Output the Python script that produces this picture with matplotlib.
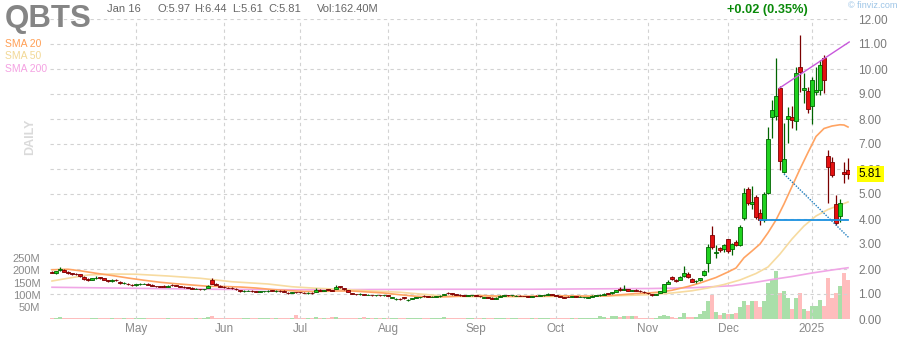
import numpy as np
import pandas as pd
import matplotlib
matplotlib.use("Agg")
import matplotlib.pyplot as plt
import matplotlib.transforms as mtransforms

plt.rcParams['font.family'] = ['Liberation Sans', 'DejaVu Sans']

# ---- data (QBTS daily, Apr 2 2024 - Jan 16 2025) ----
ticker = "QBTS"
holidays = ["2024-05-27", "2024-06-19", "2024-07-04", "2024-09-02",
            "2024-11-28", "2024-12-25", "2025-01-01", "2025-01-09"]
dates = pd.bdate_range("2024-04-02", "2025-01-16")
dates = dates[~dates.isin(pd.to_datetime(holidays))]

opens = [
    1.90, 1.84, 1.98, 1.98, 1.90, 1.84, 1.81, 1.79, 1.70, 1.60,
    1.56, 1.66, 1.67, 1.64, 1.56, 1.52, 1.56, 1.50, 1.44, 1.42,
    1.38, 1.35, 1.40, 1.42, 1.42, 1.37, 1.32, 1.31, 1.33, 1.29,
    1.38, 1.36, 1.33, 1.28, 1.27, 1.26, 1.22, 1.21, 1.19, 1.24,
    1.55, 1.42, 1.34, 1.29, 1.26, 1.25, 1.22, 1.16, 1.12, 1.13,
    1.14, 1.13, 1.08, 1.11, 1.13, 1.15, 1.11, 1.13, 1.14, 1.06,
    1.04, 1.09, 1.08, 1.06, 1.03, 1.05, 1.10, 1.17, 1.12, 1.19,
    1.15, 1.20, 1.32, 1.24, 1.15, 1.05, 1.01, 0.99, 1.00, 0.97,
    0.97, 0.96, 0.96, 0.95, 0.96, 0.85, 0.80, 0.81, 0.87, 0.75,
    0.80, 0.85, 0.87, 0.93, 0.91, 0.90, 0.90, 0.91, 0.96, 1.06,
    1.03, 0.99, 0.97, 0.95, 0.94, 0.96, 0.96, 0.92, 0.86, 0.89,
    0.86, 0.82, 0.90, 0.92, 0.97, 0.95, 0.94, 0.94, 0.93, 0.92,
    0.89, 0.94, 0.93, 0.95, 0.96, 0.99, 0.95, 0.92, 0.88, 0.90,
    0.88, 0.92, 0.90, 0.87, 0.86, 0.90, 0.94, 0.95, 0.98, 1.04,
    1.03, 1.10, 1.20, 1.17, 1.19, 1.12, 1.18, 1.13, 1.10, 1.05,
    1.00, 0.96, 1.05, 1.09, 1.42, 1.68, 1.55, 1.58, 1.72, 1.80,
    1.62, 1.52, 1.55, 1.75, 2.23, 3.36, 2.66, 2.85, 2.80, 3.19,
    2.80, 3.10, 2.96, 4.03, 5.19, 4.62, 4.89, 4.25, 3.98, 5.05,
    8.07, 8.13, 9.23, 5.89, 8.00, 8.09, 7.93, 10.09, 9.16, 9.12,
    8.52, 9.09, 9.16, 10.43, 6.52, 6.29, 4.60, 4.12, 5.89, 5.97,
]
highs = [
    1.93, 1.94, 2.08, 2.00, 1.92, 1.86, 1.84, 1.80, 1.72, 1.63,
    1.66, 1.73, 1.70, 1.66, 1.58, 1.60, 1.62, 1.52, 1.47, 1.44,
    1.40, 1.42, 1.45, 1.46, 1.44, 1.39, 1.34, 1.33, 1.35, 1.35,
    1.40, 1.38, 1.34, 1.31, 1.29, 1.28, 1.24, 1.22, 1.22, 1.35,
    1.63, 1.44, 1.35, 1.31, 1.28, 1.27, 1.24, 1.18, 1.15, 1.15,
    1.16, 1.14, 1.12, 1.14, 1.15, 1.16, 1.15, 1.15, 1.15, 1.07,
    1.09, 1.10, 1.09, 1.08, 1.07, 1.07, 1.23, 1.19, 1.16, 1.22,
    1.18, 1.35, 1.34, 1.26, 1.16, 1.06, 1.02, 1.04, 1.01, 0.99,
    0.98, 0.98, 0.97, 0.98, 0.97, 0.90, 0.84, 0.83, 0.88, 0.79,
    0.85, 0.88, 0.90, 0.95, 0.93, 0.92, 0.93, 0.95, 1.02, 1.08,
    1.04, 1.00, 0.99, 0.97, 0.98, 0.98, 0.97, 0.94, 0.90, 0.90,
    0.87, 0.87, 0.95, 0.96, 0.98, 0.97, 0.96, 0.95, 0.94, 0.93,
    0.92, 0.95, 0.96, 0.97, 1.03, 1.00, 0.96, 0.93, 0.89, 0.91,
    0.92, 0.93, 0.92, 0.90, 0.89, 0.95, 0.96, 0.99, 1.03, 1.05,
    1.10, 1.18, 1.30, 1.36, 1.21, 1.16, 1.19, 1.15, 1.11, 1.06,
    1.01, 1.01, 1.14, 1.42, 1.55, 1.73, 1.60, 1.72, 2.12, 1.88,
    1.64, 1.57, 1.66, 1.97, 3.00, 3.72, 2.95, 2.90, 3.00, 3.22,
    3.05, 3.15, 3.75, 5.23, 5.29, 5.31, 4.95, 4.40, 5.10, 7.69,
    8.76, 10.43, 9.30, 7.83, 8.49, 8.52, 10.09, 11.36, 9.83, 9.29,
    9.67, 10.09, 10.36, 10.56, 6.76, 6.49, 4.96, 4.80, 6.29, 6.44,
]
lows = [
    1.84, 1.82, 1.93, 1.88, 1.82, 1.78, 1.76, 1.70, 1.58, 1.53,
    1.55, 1.62, 1.62, 1.57, 1.48, 1.50, 1.52, 1.42, 1.40, 1.37,
    1.33, 1.34, 1.38, 1.39, 1.36, 1.31, 1.28, 1.28, 1.29, 1.28,
    1.33, 1.32, 1.28, 1.24, 1.23, 1.21, 1.19, 1.17, 1.17, 1.23,
    1.40, 1.35, 1.28, 1.25, 1.23, 1.21, 1.17, 1.10, 1.10, 1.11,
    1.10, 1.07, 1.07, 1.10, 1.10, 1.11, 1.10, 1.10, 1.09, 1.01,
    1.03, 1.06, 1.05, 1.03, 1.02, 1.02, 1.09, 1.12, 1.11, 1.15,
    1.12, 1.19, 1.26, 1.17, 1.08, 0.99, 0.97, 0.98, 0.95, 0.95,
    0.94, 0.94, 0.94, 0.94, 0.91, 0.83, 0.78, 0.78, 0.82, 0.73,
    0.79, 0.84, 0.86, 0.90, 0.88, 0.88, 0.89, 0.90, 0.95, 1.02,
    0.98, 0.96, 0.94, 0.93, 0.93, 0.94, 0.92, 0.89, 0.85, 0.85,
    0.81, 0.81, 0.89, 0.91, 0.93, 0.93, 0.92, 0.92, 0.91, 0.88,
    0.88, 0.91, 0.92, 0.94, 0.95, 0.95, 0.91, 0.87, 0.84, 0.87,
    0.87, 0.89, 0.89, 0.86, 0.85, 0.89, 0.93, 0.94, 0.97, 1.00,
    1.02, 1.09, 1.14, 1.15, 1.13, 1.11, 1.13, 1.10, 1.06, 1.01,
    0.94, 0.95, 1.04, 1.08, 1.40, 1.58, 1.48, 1.56, 1.70, 1.66,
    1.48, 1.46, 1.53, 1.73, 1.90, 2.80, 2.45, 2.70, 2.70, 2.65,
    2.55, 2.92, 2.93, 3.96, 4.55, 4.40, 4.00, 3.75, 3.90, 5.00,
    7.24, 7.96, 5.96, 5.83, 7.03, 7.63, 7.56, 9.09, 8.63, 8.23,
    7.79, 8.96, 8.96, 9.03, 4.63, 5.69, 3.76, 3.90, 5.43, 5.61,
]
closes = [
    1.86, 1.92, 1.99, 1.90, 1.84, 1.82, 1.79, 1.72, 1.62, 1.57,
    1.64, 1.66, 1.65, 1.58, 1.52, 1.55, 1.55, 1.45, 1.44, 1.40,
    1.36, 1.40, 1.41, 1.42, 1.38, 1.33, 1.31, 1.30, 1.30, 1.33,
    1.35, 1.34, 1.30, 1.27, 1.25, 1.22, 1.22, 1.19, 1.20, 1.33,
    1.42, 1.37, 1.30, 1.27, 1.25, 1.23, 1.19, 1.12, 1.13, 1.13,
    1.12, 1.09, 1.11, 1.12, 1.13, 1.12, 1.14, 1.12, 1.10, 1.03,
    1.08, 1.08, 1.07, 1.05, 1.06, 1.04, 1.18, 1.13, 1.15, 1.16,
    1.14, 1.28, 1.28, 1.19, 1.10, 1.01, 0.99, 1.02, 0.96, 0.97,
    0.96, 0.96, 0.95, 0.96, 0.93, 0.88, 0.82, 0.80, 0.84, 0.78,
    0.84, 0.87, 0.89, 0.91, 0.89, 0.90, 0.92, 0.94, 1.00, 1.04,
    0.99, 0.98, 0.96, 0.94, 0.97, 0.96, 0.93, 0.91, 0.89, 0.86,
    0.82, 0.86, 0.93, 0.95, 0.95, 0.95, 0.94, 0.93, 0.92, 0.89,
    0.91, 0.92, 0.95, 0.96, 1.01, 0.96, 0.92, 0.88, 0.86, 0.88,
    0.91, 0.90, 0.90, 0.89, 0.88, 0.94, 0.95, 0.98, 1.02, 1.01,
    1.08, 1.16, 1.16, 1.22, 1.14, 1.15, 1.14, 1.12, 1.07, 1.03,
    0.96, 0.99, 1.12, 1.39, 1.50, 1.61, 1.53, 1.70, 1.83, 1.68,
    1.50, 1.54, 1.64, 1.93, 2.87, 2.87, 2.68, 2.76, 2.95, 2.73,
    3.00, 2.98, 3.69, 5.03, 4.63, 4.68, 4.09, 3.96, 5.00, 7.19,
    8.36, 8.92, 6.33, 6.39, 8.12, 7.96, 9.85, 9.89, 9.23, 8.39,
    9.56, 9.16, 10.16, 9.56, 6.09, 5.76, 3.85, 4.65, 5.80, 5.81,
]
# volume in millions
volume = [
    6, 5, 7, 5, 5, 4, 4, 5, 5, 4,
    5, 4, 4, 4, 4, 4, 4, 5, 4, 4,
    4, 4, 3, 4, 4, 4, 4, 3, 3, 4,
    4, 3, 3, 4, 4, 4, 3, 3, 3, 8,
    14, 6, 5, 4, 4, 4, 4, 4, 3, 3,
    3, 4, 3, 3, 3, 4, 3, 3, 4, 4,
    4, 17, 4, 4, 4, 3, 9, 6, 4, 5,
    8, 9, 6, 5, 5, 5, 4, 4, 8, 4,
    3, 3, 3, 3, 4, 4, 5, 4, 4, 5,
    5, 4, 3, 3, 3, 3, 3, 3, 8, 6,
    4, 3, 3, 3, 3, 3, 3, 3, 4, 4,
    4, 4, 3, 3, 3, 3, 3, 3, 3, 3,
    3, 3, 3, 4, 6, 4, 3, 3, 4, 4,
    3, 3, 3, 3, 4, 5, 6, 13, 8, 6,
    13, 13, 10, 13, 12, 11, 12, 6, 5, 5,
    5, 6, 12, 16, 12, 8, 6, 10, 26, 8,
    8, 8, 20, 34, 76, 97, 28, 15, 26, 20,
    20, 24, 50, 74, 57, 74, 74, 50, 74, 149,
    159, 197, 108, 115, 88, 42, 88, 108, 43, 33,
    53, 55, 80, 55, 170, 86, 105, 137, 190, 162.4,
]

# moving averages at selected bars (bar index, value)
sma20_idx = [0, 4, 7, 11, 15, 19, 23, 27, 31, 35, 39, 43, 47, 51, 55, 59, 63, 67, 71,
             75, 79, 83, 87, 91, 95, 99, 103, 107, 111, 115, 119, 123, 127, 131, 135,
             139, 143, 146, 149, 152, 155, 159, 162, 166, 169, 171, 173, 175, 177, 179,
             181, 183, 185, 187, 189, 191, 193, 195, 197, 198, 199]
sma20_val = [1.97, 1.99, 1.93, 1.83, 1.74, 1.64, 1.55, 1.47, 1.41, 1.36, 1.31, 1.30,
             1.28, 1.24, 1.18, 1.14, 1.10, 1.10, 1.12, 1.12, 1.08, 1.04, 0.97, 0.91,
             0.88, 0.89, 0.92, 0.94, 0.92, 0.91, 0.91, 0.92, 0.93, 0.92, 0.91, 0.93,
             0.98, 1.02, 1.04, 1.08, 1.15, 1.30, 1.44, 1.66, 1.88, 2.04, 2.45, 2.72,
             3.00, 3.45, 3.96, 4.60, 5.30, 6.00, 6.66, 7.30, 7.62, 7.72, 7.77, 7.76, 7.68]
sma50_idx = [0, 4, 9, 15, 21, 29, 37, 45, 54, 60, 66, 72, 80, 87, 92, 97, 103, 108,
             115, 122, 130, 138, 143, 147, 151, 155, 160, 164, 168, 172, 176, 179,
             182, 185, 188, 191, 194, 197, 199]
sma50_val = [1.52, 1.63, 1.76, 1.80, 1.79, 1.72, 1.63, 1.49, 1.40, 1.29, 1.23, 1.19,
             1.12, 1.07, 1.00, 0.93, 0.90, 0.89, 0.89, 0.90, 0.91, 0.92, 0.94, 0.96,
             0.99, 1.04, 1.13, 1.24, 1.38, 1.56, 1.82, 2.08, 2.60, 3.20, 3.72, 4.12,
             4.38, 4.56, 4.68]
sma200_idx = [0, 20, 40, 60, 80, 100, 120, 140, 150, 160, 170, 176, 180, 185, 190, 195, 199]
sma200_val = [1.27, 1.23, 1.19, 1.17, 1.18, 1.19, 1.19, 1.21, 1.22, 1.25, 1.33, 1.47,
              1.58, 1.70, 1.84, 1.96, 2.05]

# trendlines drawn on the chart (bar index, price)
upper_trend = ([181.8, 199.3], [9.23, 11.08])
lower_trend = ([183.0, 199.1], [5.80, 3.27])
support = ([177.0, 199.0], [3.97, 3.97])

price_ticks = list(range(0, 13))
vol_ticks = [50, 100, 150, 200, 250]

# ---- figure ----
W, H = 900, 340
fig = plt.figure(figsize=(W / 100, H / 100), dpi=100)
fig.patch.set_facecolor('white')


def fx(x):
    return x / W


def fy(y):
    return 1 - y / H


rect = [fx(50), fy(319), 800 / W, 300 / H]
ax = fig.add_axes(rect)
axv = ax.twinx()
axv.set_zorder(0)
ax.set_zorder(1)
ax.patch.set_visible(False)

x = np.arange(len(closes))
o = np.array(opens)
c = np.array(closes)
hi = np.array(highs)
lo = np.array(lows)
up = c >= o

# volume
vol_colors = np.where(up, '#a9dfa9', '#ffbdbd')
axv.bar(x, volume, width=0.88, color=vol_colors, linewidth=0)
axv.set_ylim(0, 1235)
axv.yaxis.tick_left()
axv.set_yticks(vol_ticks)
axv.set_yticklabels([f"{v}M" for v in vol_ticks])
axv.tick_params(axis='y', length=0, pad=7, labelsize=8, labelcolor='#8a8a8a')
for s in axv.spines.values():
    s.set_visible(False)

# grid
ax.set_xlim(-0.5, len(closes) - 0.5)
ax.set_ylim(0, 12)
month_starts = [i for i in range(1, len(dates)) if dates[i].month != dates[i - 1].month]
month_labels = ["2025" if dates[i].month == 1 else dates[i].strftime("%b") for i in month_starts]
ax.set_xticks(month_starts)
ax.set_xticklabels(month_labels)
ax.yaxis.tick_right()
ax.set_yticks(price_ticks)
ax.set_yticklabels([f"{p:.2f}" for p in price_ticks])
ax.tick_params(axis='y', length=0, pad=6, labelsize=8.5, labelcolor='#7a7a7a')
ax.tick_params(axis='x', length=0, pad=3, labelsize=8.5, labelcolor='#8a8a8a')
ax.grid(True, color='#d2d2d2', linestyle=(0, (3, 3)), linewidth=0.8)
ax.set_axisbelow(True)
for s in ax.spines.values():
    s.set_visible(False)

# moving averages
ax.plot(sma200_idx, sma200_val, color='#f0a6e6', lw=1.2, zorder=2)
ax.plot(sma50_idx, sma50_val, color='#f7dba0', lw=1.2, zorder=2)
ax.plot(sma20_idx, sma20_val, color='#ffa463', lw=1.2, zorder=2)

# candles
wick_col = np.where(up, '#006400', '#7a0000')
ax.vlines(x, lo, hi, colors=wick_col, lw=0.9, zorder=3)
body_bottom = np.minimum(o, c)
body_h = np.abs(c - o)
ax.bar(x, body_h, bottom=body_bottom, width=0.82,
       color=np.where(up, '#1fd21f', '#e51010'),
       edgecolor=np.where(up, '#006400', '#7a0000'), linewidth=0.6, zorder=4)

# trendlines
ax.plot(*upper_trend, color='#c858dc', lw=1.0, zorder=5)
ax.plot(*lower_trend, color='#1f7fc0', lw=1.0, linestyle=(0, (1, 1)), zorder=5)
ax.plot(*support, color='#1a90e0', lw=1.3, zorder=5)

# last price tag
trans = mtransforms.blended_transform_factory(ax.transAxes, ax.transData)
ax.text(1.011, closes[-1], f"{closes[-1]:.2f}", transform=trans, ha='left', va='center',
        fontsize=8.5, color='black', zorder=10, clip_on=False,
        bbox=dict(boxstyle='square,pad=0.15', facecolor='#ffff00', edgecolor='none'))

# header
fig.text(fx(5), fy(27.5), ticker, fontsize=22.5, fontweight='bold', color='#858585', va='baseline')
fig.text(fx(107), fy(9), "Jan 16", fontsize=8, color='#666666', va='center')
for xp, t in [(157, "O:5.97"), (194, "H:6.44"), (232, "L:5.61"), (268, "C:5.81"), (317, "Vol:162.40M")]:
    fig.text(fx(xp), fy(9), t, fontsize=8, color='#666666', va='center')
fig.text(fx(727), fy(10), "+0.02 (0.35%)", fontsize=9.2, fontweight='bold', color='#0a8a0a', va='center')
fig.text(fx(848), fy(6), "© finviz.com", fontsize=6.5, color='#9cc4e6', va='center')

# legend
fig.text(fx(5), fy(44), "SMA 20", fontsize=7.5, color='#ff9f55', va='center')
fig.text(fx(5), fy(56), "SMA 50", fontsize=7.5, color='#f2d896', va='center')
fig.text(fx(5), fy(68.5), "SMA 200", fontsize=7.5, color='#f4a2e2', va='center')
fig.text(fx(30), fy(137), "DAILY", fontsize=9, fontweight='bold', color='#dadada',
         rotation=90, ha='center', va='center')

fig.savefig("out.png", dpi=100)
